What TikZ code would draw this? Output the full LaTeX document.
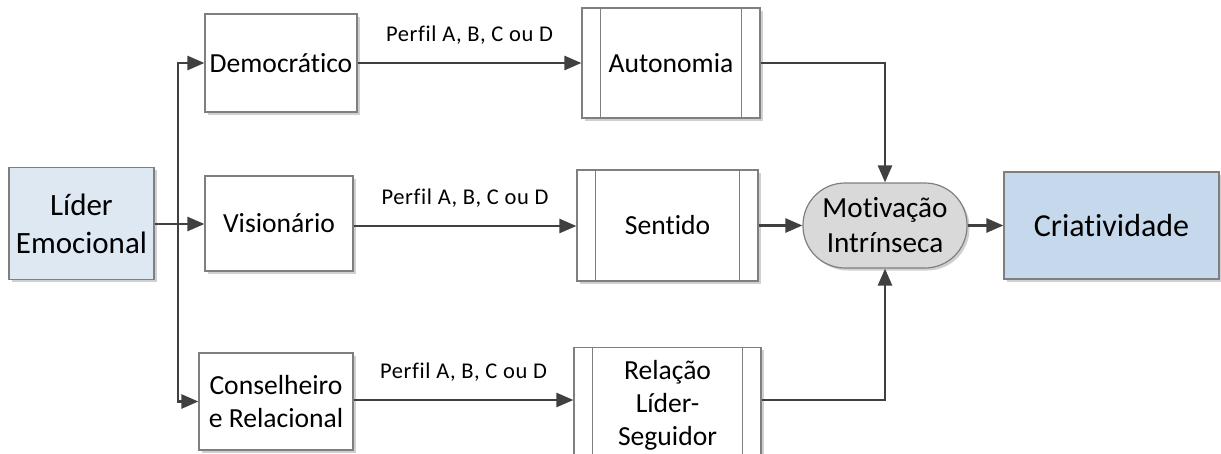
\documentclass[tikz,border=0pt]{standalone}
\usepackage{fontspec}
\setmainfont[Ligatures={NoCommon}]{Carlito}
\usetikzlibrary{arrows.meta,calc,positioning}

\definecolor{linegray}{HTML}{404040}
\definecolor{boxgray}{HTML}{7F7F7F}
\definecolor{leaderblue}{HTML}{DEE8F2}
\definecolor{resultblue}{HTML}{C6D9EC}
\definecolor{pillgray}{HTML}{D9D9D9}
\definecolor{shadowgray}{HTML}{D0D0D0}

\tikzset{
  box/.style={draw=boxgray, line width=1.2pt, fill=white, align=center,
    inner sep=2pt, font=\fontsize{27.6}{33}\selectfont,
    preaction={fill=shadowgray, transform canvas={shift={(2.5pt,-2.5pt)}}}},
  process/.style={box},
  conn/.style={draw=linegray, line width=2.6pt},
  arr/.style={conn, -{Triangle[length=17pt,width=14pt]}},
  lbl/.style={font=\fontsize{22.5}{26}\selectfont\addfontfeature{LetterSpace=2.8}, text=black},
}

\begin{document}
\begin{tikzpicture}[x=1pt,y=-1pt]
\useasboundingbox (0,0) rectangle (1221,453);
\clip (0,0) rectangle (1221,453);

% leader and outcome
\node[box, fill=leaderblue, minimum width=145pt, minimum height=112pt,
  font=\fontsize{31}{38}\selectfont] (lider) at (81.5,223.5) {Líder\\Emocional};
\node[box, fill=resultblue, minimum width=215pt, minimum height=107pt,
  font=\fontsize{32}{38}\selectfont] (cri) at (1111.5,225.5) {Criatividade};

% leadership styles
\node[box, minimum width=152pt, minimum height=98pt] (dem) at (281,63) {Democrático};
\node[box, minimum width=148pt, minimum height=95pt] (vis) at (279,223.5) {Visionário};
\node[box, minimum width=154pt, minimum height=97pt] (cons) at (276,401.5) {Conselheiro\\e Relacional};

% predefined-process boxes
\node[process, minimum width=178pt, minimum height=110pt] (aut) at (671,63) {Autonomia};
\node[process, minimum width=181pt, minimum height=111pt] (sen) at (667.5,225.5) {Sentido};
\node[process, minimum width=187pt, minimum height=114pt, anchor=north] (rel) at (667.5,347) {};
\node[font=\fontsize{27.6}{33}\selectfont, align=center, anchor=north] (reltxt) at (667.5,357) {Relação\\Líder-\\Seguidor};
\foreach \n in {aut,sen,rel}{
  \draw[boxgray, line width=1.2pt] ($(\n.north west)+(19,0)$) -- ($(\n.south west)+(19,0)$);
  \draw[boxgray, line width=1.2pt] ($(\n.north east)+(-19,0)$) -- ($(\n.south east)+(-19,0)$);
}

% intrinsic motivation
\node[draw=boxgray, line width=1.2pt, fill=pillgray, rounded corners=42pt,
  minimum width=164pt, minimum height=85pt, align=center, inner sep=2pt,
  font=\fontsize{29.2}{35}\selectfont,
  preaction={fill=shadowgray, rounded corners=42pt, transform canvas={shift={(2.5pt,-2.5pt)}}}]
  (mot) at (885,225.5) {Motivação\\Intrínseca};

% branching from the leader
\coordinate (bus) at (178,224);
\draw[arr] (lider.east |- bus) -- (vis.west |- bus);
\draw[arr] (bus) -- (178,63) -- (dem.west |- 0,63);
\draw[arr] (bus) -- (178,401.5) -- (cons.west |- 0,401.5);

% profile connectors
\draw[arr] (dem.east |- 0,63) -- (aut.west |- 0,63) node[lbl, midway, above=14pt] {Perfil A, B, C ou D};
\draw[arr] (vis.east |- 0,226) -- (sen.west |- 0,226) node[lbl, midway, above=14pt] {Perfil A, B, C ou D};
\draw[arr] (cons.east |- 0,400) -- (rel.west |- 0,400) node[lbl, midway, above=14pt] {Perfil A, B, C ou D};

% into motivation and creativity
\draw[arr] (aut.east |- 0,63) -| (mot.north);
\draw[arr] (sen.east |- mot) -- (mot.west);
\draw[arr] (rel.east |- 0,400) -| (mot.south);
\draw[arr] (mot.east) -- (cri.west |- mot);
\end{tikzpicture}
\end{document}
